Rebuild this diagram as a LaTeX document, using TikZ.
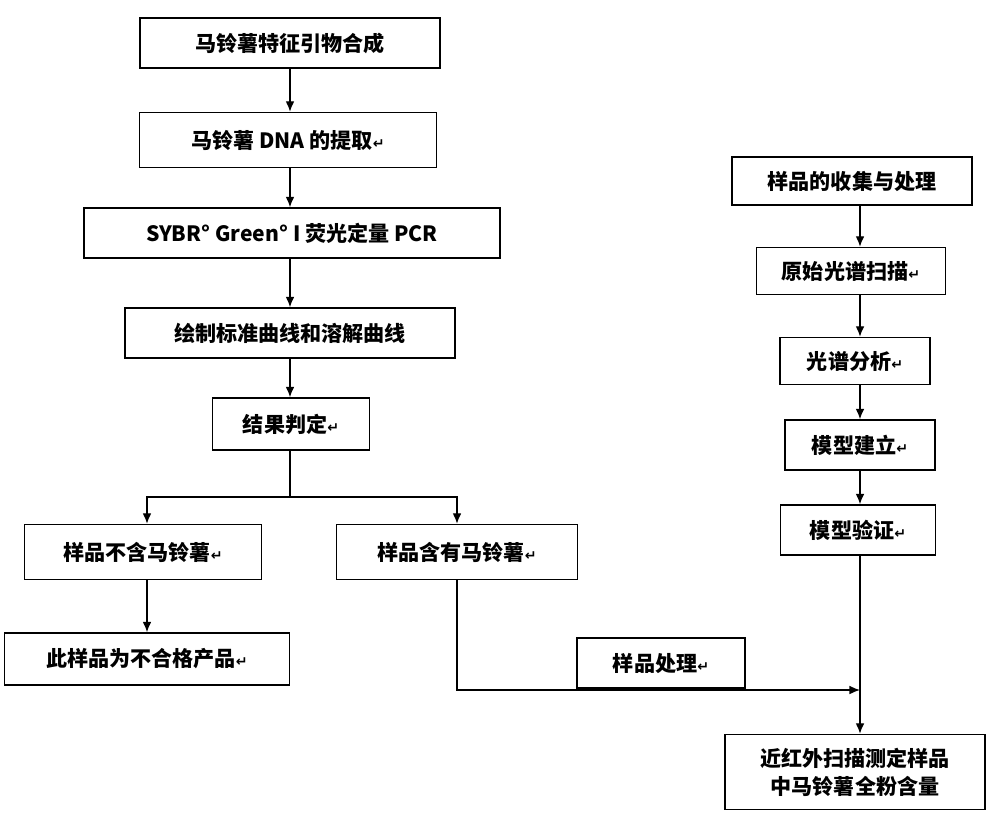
\documentclass[tikz,border=0pt]{standalone}
\usepackage{fontspec}
\newfontfamily\cjk{Noto Sans CJK SC}
\newfontfamily\symfont{DejaVu Sans}
\newcommand{\ret}{{\symfont\fontsize{8}{10}\selectfont ↵}}
\usetikzlibrary{arrows.meta}

\begin{document}
\begin{tikzpicture}[x = 0.02cm, y = -0.02cm,
  box/.style = {draw, thick, inner sep = 0pt, font = \cjk\bfseries\fontsize{12}{16}\selectfont},
  flow/.style = {draw, thick, -{Latex[length=6pt,width=5pt]}}]
\useasboundingbox (0,0) rectangle (1000,822);
% left column
\node[box, minimum width = 6cm, minimum height = 1cm] (syn) at (290,43) {马铃薯特征引物合成};
\node[box, minimum width = 5.94cm, minimum height = 1.1cm] (dna) at (288,140) {马铃薯 DNA 的提取\ret};
\node[box, minimum width = 8.32cm, minimum height = 1cm] (pcr) at (292,233) {SYBR° Green° I 荧光定量 PCR};
\node[box, minimum width = 6.6cm, minimum height = 1cm] (curve) at (290,333) {绘制标准曲线和溶解曲线};
\node[box, minimum width = 3.14cm, minimum height = 1.04cm] (judge) at (291,424) {结果判定\ret};
\node[box, minimum width = 4.74cm, minimum height = 1.1cm] (neg) at (143,552) {样品不含马铃薯\ret};
\node[box, minimum width = 4.82cm, minimum height = 1.1cm] (pos) at (457,552) {样品含有马铃薯\ret};
\node[box, minimum width = 5.7cm, minimum height = 1.04cm] (fail) at (147,659) {此样品为不合格产品\ret};
% right column
\node[box, minimum width = 4.8cm, minimum height = 0.96cm] (coll) at (852,181) {样品的收集与处理};
\node[box, minimum width = 3.78cm, minimum height = 0.94cm] (scan) at (851,271) {原始光谱扫描\ret};
\node[box, minimum width = 3cm, minimum height = 0.94cm] (ana) at (855,361) {光谱分析\ret};
\node[box, minimum width = 3cm, minimum height = 1cm] (model) at (860,445) {模型建立\ret};
\node[box, minimum width = 3.1cm, minimum height = 1cm] (valid) at (858,530) {模型验证\ret};
\node[box, minimum width = 3.36cm, minimum height = 1cm] (treat) at (661,663) {样品处理\ret};
\node[box, minimum width = 5.2cm, minimum height = 1.5cm, align = center] (nir) at (855,772) {近红外扫描测定样品\\中马铃薯全粉含量};
\coordinate (split) at (290,497);
\coordinate (join) at (860,690);
% connectors
\draw[flow] (syn.south -| 290,0) -- (dna.north -| 290,0);
\draw[flow] (dna.south -| 290,0) -- (pcr.north -| 290,0);
\draw[flow] (pcr.south -| 290,0) -- (curve.north -| 290,0);
\draw[flow] (curve.south -| 290,0) -- (judge.north -| 290,0);
\draw[thick] (judge.south -| 290,0) -- (split);
\draw[flow] (split) -| (neg.north -| 147,0);
\draw[flow] (split) -| (pos.north);
\draw[flow] (neg.south -| 147,0) -- (fail.north -| 147,0);
\draw[flow] (coll.south -| 860,0) -- (scan.north -| 860,0);
\draw[flow] (scan.south -| 860,0) -- (ana.north -| 860,0);
\draw[flow] (ana.south -| 860,0) -- (model.north -| 860,0);
\draw[flow] (model.south -| 860,0) -- (valid.north -| 860,0);
\draw[flow] (valid.south -| 860,0) -- (nir.north -| 860,0);
\draw[flow] (pos.south) |- (join);
\end{tikzpicture}
\end{document}
